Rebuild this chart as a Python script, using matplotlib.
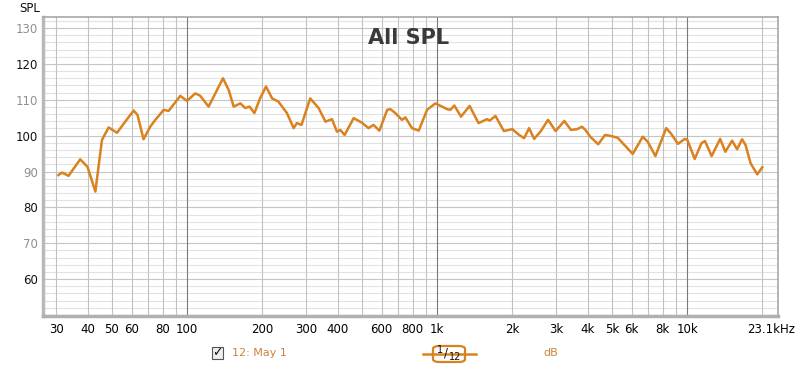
import numpy as np
import matplotlib.pyplot as plt
import matplotlib.transforms as mtransforms
from matplotlib.patches import FancyBboxPatch, Rectangle

# frequency response
freq = [30.6, 31.6, 33.6, 37.4, 40.0, 43.0, 45.7, 48.6, 52.5, 56.6, 61.2, 63.4, 67.0,
        71.3, 74.7, 80.7, 84.4, 94.0, 100, 108, 113, 122, 129.8, 139.3, 146.7, 153.7,
        163.4, 171, 178, 186, 196, 207, 219, 232, 251, 267, 275, 287, 311, 336, 358,
        380, 398, 410, 427, 464, 501, 532, 557, 588, 632, 650, 681, 724, 747, 794, 845,
        912, 985, 1033, 1096, 1130, 1173, 1247, 1350, 1465, 1585, 1623, 1712, 1850,
        2000, 2130, 2230, 2335, 2445, 2590, 2780, 2980, 3230, 3430, 3630, 3800, 3920,
        4100, 4410, 4700, 4970, 5280, 5700, 6060, 6650, 6960, 7470, 8250, 8640, 9190,
        9790, 10030, 10730, 11420, 11790, 12540, 13560, 14220, 15140, 15850, 16600,
        17130, 17950, 19080, 19990]
spl = [89.0, 89.7, 88.8, 93.4, 91.3, 84.4, 98.8, 102.3, 100.8, 103.9, 107.0, 105.8, 99.0,
       102.5, 104.4, 107.2, 106.9, 111.1, 109.7, 111.8, 111.1, 108.1, 111.8, 116.0, 112.8,
       108.1, 109.0, 107.7, 108.1, 106.3, 110.4, 113.7, 110.4, 109.5, 106.3, 102.1, 103.5,
       103.0, 110.4, 107.7, 103.9, 104.6, 101.1, 101.6, 100.2, 104.9, 103.6, 102.1, 103.0,
       101.4, 107.2, 107.4, 106.3, 104.4, 105.1, 102.1, 101.4, 107.2, 109.0, 108.3, 107.4,
       107.2, 108.4, 105.3, 108.3, 103.5, 104.6, 104.2, 105.5, 101.3, 101.8, 100.2, 99.3,
       102.1, 99.1, 101.1, 104.4, 101.3, 104.1, 101.6, 101.8, 102.5, 101.6, 99.7, 97.6,
       100.2, 99.9, 99.4, 96.9, 94.9, 99.7, 98.3, 94.3, 102.1, 100.5, 97.7, 99.1, 98.8,
       93.5, 97.9, 98.5, 94.3, 99.1, 95.5, 98.6, 96.2, 99.0, 97.4, 92.3, 89.2, 91.2]

tick_freqs = [30, 40, 50, 60, 80, 100, 200, 300, 400, 600, 800, 1000, 2000, 3000,
              4000, 5000, 6000, 8000, 10000, 23100]
tick_labels = ["30", "40", "50", "60", "80", "100", "200", "300", "400", "600", "800",
               "1k", "2k", "3k", "4k", "5k", "6k", "8k", "10k", "23.1kHz"]
y_ticks = [60, 70, 80, 90, 100, 110, 120, 130]

line_col = "#d9821e"

fig = plt.figure(figsize=(8, 3.69), dpi=100)
ax = fig.add_axes([0.054, 0.1436, 0.9185, 0.8104])
ax.set_xscale("log")
ax.set_xlim(26.6, 23100)
ax.set_ylim(49.7, 133.1)

# grid
for v in np.arange(50, 134, 2):
    c = "#c4c4c4" if v % 10 == 0 else "#e2e2e2"
    ax.axhline(v, color=c, lw=0.8, zorder=0)
grid_f = [f * m for m in [10, 100, 1000] for f in range(1, 10)] + [10000, 20000]
for f in grid_f:
    if f < 27:
        continue
    c = "#7a7a7a" if f in (100, 1000, 10000) else "#c2c2c2"
    ax.axvline(f, color=c, lw=0.8, zorder=0)

ax.plot(freq, spl, color=line_col, lw=1.8, solid_joinstyle="round", zorder=3)

ax.set_xticks(tick_freqs)
ax.set_xticklabels(tick_labels)
ax.minorticks_off()
ax.set_yticks(y_ticks)
ax.set_yticklabels([str(v) for v in y_ticks])
for lab, v in zip(ax.get_yticklabels(), y_ticks):
    lab.set_color("#111111" if v % 20 == 0 else "#909090")
ax.tick_params(length=0, labelsize=8.5, pad=5)
ax.tick_params(axis="y", pad=4)
last = ax.get_xticklabels()[-1]
last.set_ha("right")
last.set_transform(last.get_transform() +
                   mtransforms.ScaledTranslation(17 / 100, 0, fig.dpi_scale_trans))

for s in ax.spines.values():
    s.set_color("#a8a8a8")
    s.set_linewidth(1.2)
ax.spines["left"].set_linewidth(2.5)
ax.spines["bottom"].set_linewidth(2.5)
ax.spines["left"].set_color("#b8b8b8")
ax.spines["bottom"].set_color("#b0b0b0")

ax.text(0.497, 0.93, "All SPL", transform=ax.transAxes, ha="center", va="center",
        fontsize=15, fontweight="bold", color="#3a3a3a")
fig.text(30 / 800, 1 - 9 / 369, "SPL", ha="center", va="center", fontsize=8.5,
         color="#111111")

# legend-like strip below the chart
fig.patches.append(Rectangle((212 / 800, 1 - 359 / 369), 11 / 800, 12 / 369,
                             transform=fig.transFigure, fc="#eeeeee", ec="#555555",
                             lw=0.8))
fig.text(217.5 / 800, 1 - 353 / 369, "\u2713", ha="center", va="center", fontsize=9,
         color="#111111", fontweight="bold")
fig.text(232 / 800, 1 - 353 / 369, "12: May 1", ha="left", va="center", fontsize=8,
         color="#c8843e")
fig.lines.append(plt.Line2D([423 / 800, 476 / 800], [1 - 354 / 369, 1 - 354 / 369],
                            transform=fig.transFigure, color=line_col, lw=1.8))
fig.patches.append(FancyBboxPatch((433 / 800, 1 - 362 / 369), 32 / 800, 16 / 369,
                                  boxstyle="round,pad=0,rounding_size=0.008",
                                  transform=fig.transFigure, fc="white", ec=line_col,
                                  lw=1.6))
fig.text(440 / 800, 1 - 350 / 369, "1", ha="center", va="center", fontsize=7,
         color="#111111")
fig.text(446 / 800, 1 - 353.5 / 369, "/", ha="center", va="center", fontsize=8.5,
         color="#111111")
fig.text(455 / 800, 1 - 357 / 369, "12", ha="center", va="center", fontsize=7,
         color="#111111")
fig.text(551 / 800, 1 - 353 / 369, "dB", ha="center", va="center", fontsize=8,
         color="#c8843e")

fig.savefig("out.png", dpi=100, facecolor="white")
